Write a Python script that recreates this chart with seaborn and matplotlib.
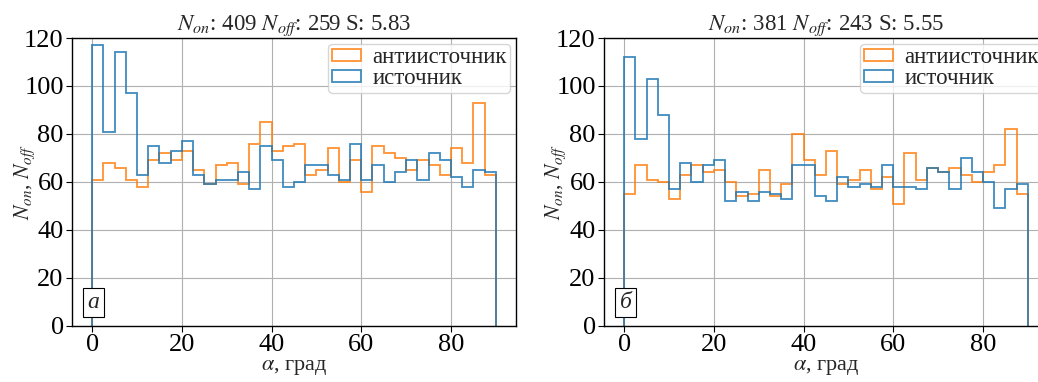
import numpy as np
import matplotlib
matplotlib.use("Agg")
import matplotlib.pyplot as plt
import seaborn as sns

# bin edges: 36 bins of 2.5 degrees
edges = np.linspace(0, 90, 37)
centers = (edges[:-1] + edges[1:]) / 2

# panel a
anti_a = [61, 68, 66, 61, 58, 69, 72, 69, 73, 65, 59, 67, 68, 59, 76, 85, 73, 75,
          76, 63, 65, 74, 60, 69, 56, 75, 72, 70, 65, 69, 67, 63, 74, 68, 93, 63]
src_a = [117, 81, 114, 97, 63, 75, 68, 73, 77, 63, 59, 61, 61, 64, 57, 75, 69, 58,
         60, 67, 67, 63, 61, 76, 61, 67, 60, 64, 69, 61, 72, 69, 62, 58, 65, 64]
# panel b
anti_b = [55, 67, 61, 60, 53, 63, 67, 64, 65, 60, 54, 55, 65, 54, 59, 80, 69, 63,
          73, 59, 61, 65, 57, 62, 51, 72, 61, 66, 64, 66, 63, 60, 64, 67, 82, 55]
src_b = [112, 78, 103, 88, 57, 68, 60, 67, 69, 52, 56, 52, 56, 55, 53, 67, 67, 54,
         52, 62, 58, 59, 58, 67, 58, 58, 57, 66, 64, 57, 70, 64, 60, 49, 57, 59]

titles = ["$N_{on}$: 409 $N_{off}$: 259 S: 5.83",
          "$N_{on}$: 381 $N_{off}$: 243 S: 5.55"]
panel_tags = ["а", "б"]
labels = ["антиисточник", "источник"]

sns.set_theme(style="ticks", rc={"axes.edgecolor": "black", "xtick.color": "black",
                                 "ytick.color": "black", "axes.linewidth": 1.0})
plt.rcParams["font.family"] = ["Liberation Serif", "DejaVu Serif"]
plt.rcParams["mathtext.fontset"] = "stix"

fig = plt.figure(figsize=(10.38, 3.82), dpi=100)
ax_a = fig.add_axes([0.0694, 0.147, 0.4277, 0.7535])
ax_b = fig.add_axes([0.5819, 0.147, 0.4277, 0.7535])

colors = ["#ff7f0e", "#1f77b4"]
data = [(anti_a, src_a), (anti_b, src_b)]

for ax, (anti, src), title, tag in zip([ax_a, ax_b], data, titles, panel_tags):
    for vals, lab, col in zip([anti, src], labels, colors):
        ax.hist(centers, bins=edges, weights=vals, histtype="step",
                color=col, lw=1.3, alpha=0.85, label=lab)
    ax.set_ylim(0, 120)
    ax.set_yticks(range(0, 121, 20))
    ax.set_xticks(range(0, 81, 20))
    ax.grid(True, color="#b0b0b0", lw=0.8)
    ax.set_axisbelow(True)
    ax.tick_params(labelsize=19, length=4, width=0.8, pad=2)
    ax.set_title(title, fontsize=16.5, pad=5)
    ax.set_xlabel(r"$\alpha$, град", fontsize=16, labelpad=1)
    ax.set_ylabel("$N_{on}$, $N_{off}$", fontsize=15.5)
    ax.yaxis.set_label_coords(-0.08, 0.5)
    ax.legend(loc="upper right", fontsize=16.5, handlelength=1.27, handleheight=0.45,
              borderpad=0.15, labelspacing=0.0, handletextpad=0.5,
              borderaxespad=0.25, framealpha=0.8)
    ax.text(0.035, 0.045, tag, transform=ax.transAxes, fontsize=17, style="italic",
            ha="left", va="bottom",
            bbox=dict(boxstyle="square,pad=0.18", fc="white", ec="black", lw=0.8))

fig.savefig("out.png", dpi=100)
